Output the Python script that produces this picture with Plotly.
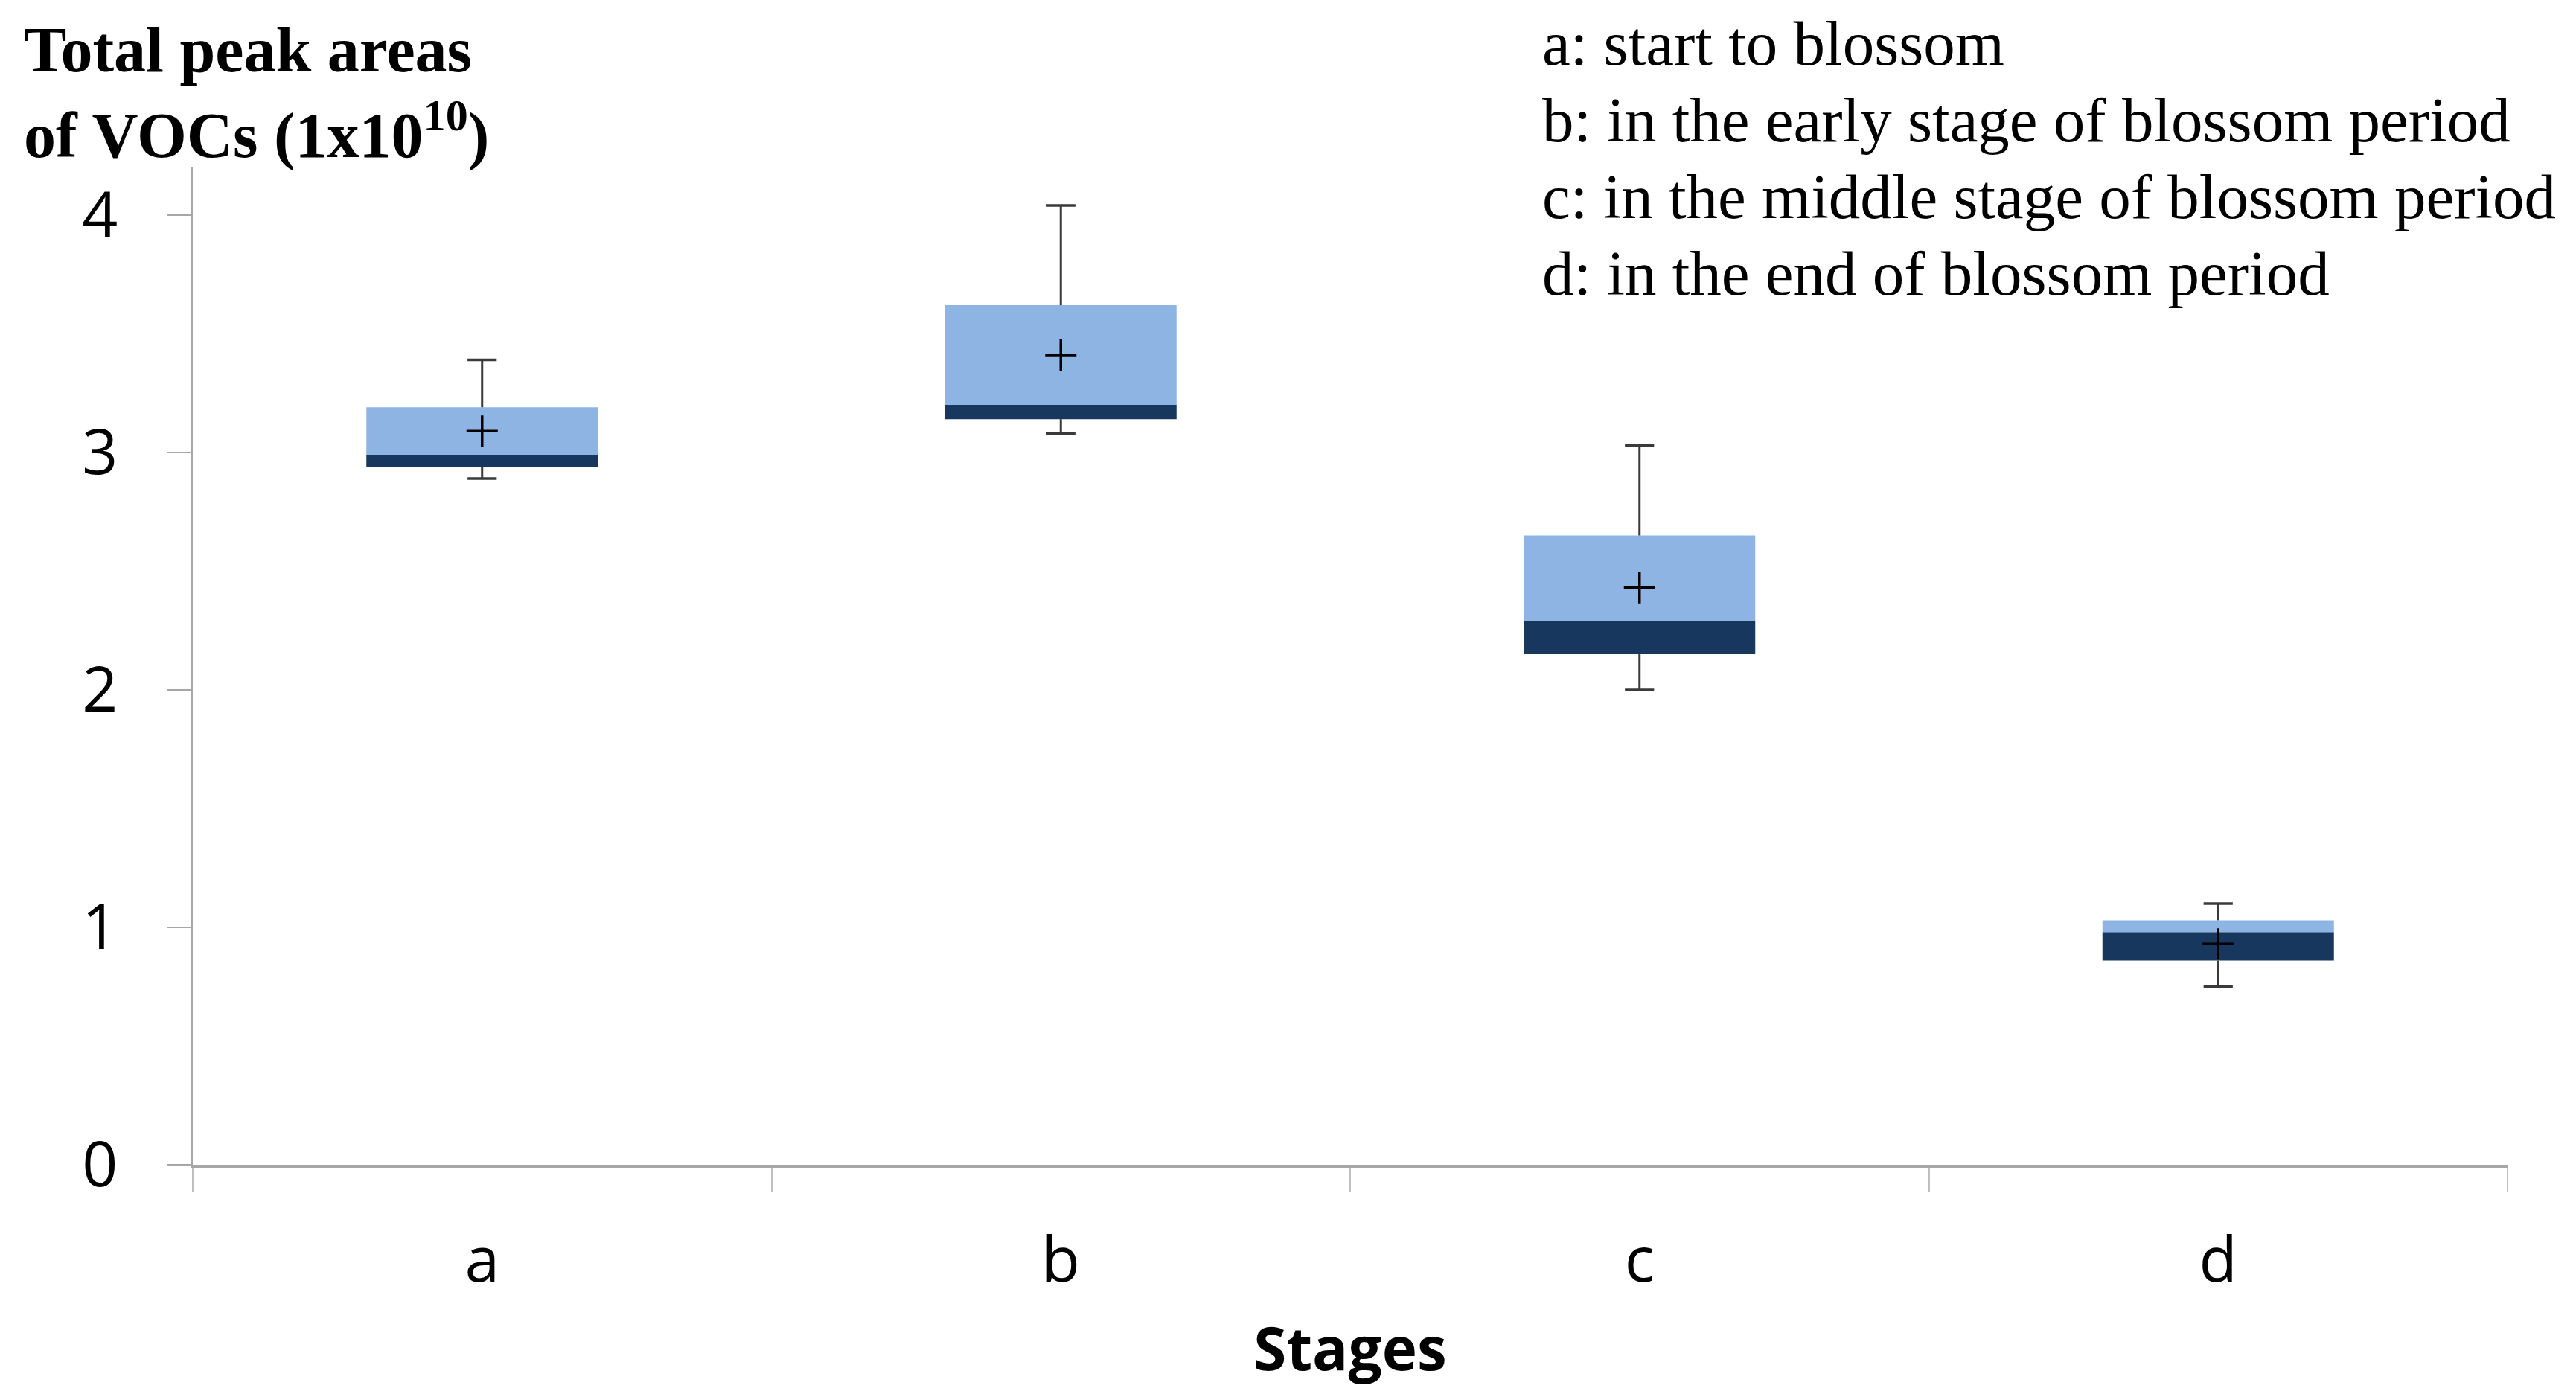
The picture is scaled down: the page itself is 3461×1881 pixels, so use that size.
import plotly.graph_objects as go

# ---- data ----
stages = ["a", "b", "c", "d"]
q1 = [2.94, 3.14, 2.15, 0.86]
median = [2.99, 3.20, 2.29, 0.98]
q3 = [3.19, 3.62, 2.65, 1.03]
minimum = [2.89, 3.08, 2.00, 0.75]
maximum = [3.39, 4.04, 3.03, 1.10]
mean = [3.09, 3.41, 2.43, 0.93]
yticks = [0, 1, 2, 3, 4]
title_lines = ["<b>Total peak areas</b>", "<b>of VOCs (1x10<sup>10</sup>)</b>"]
legend_lines = [
    "a: start to blossom",
    "b: in the early stage of blossom period",
    "c: in the middle stage of blossom period",
    "d: in the end of blossom period",
]

DARK = "#17375E"
LIGHT = "#8EB4E3"
WHISK = "#3A3A3A"
SANS = "Open Sans, sans-serif"
SERIF = "Liberation Serif, serif"

lower_h = [m - a for m, a in zip(median, q1)]
upper_h = [b - m for b, m in zip(q3, median)]

# whisker segments (q3 -> max, q1 -> min), separated by None
wx, wy = [], []
for s, a, b, mn, mx in zip(stages, q1, q3, minimum, maximum):
    wx += [s, s, None, s, s, None]
    wy += [b, mx, None, a, mn, None]

fig = go.Figure()
fig.add_trace(go.Bar(x=stages, y=lower_h, base=q1, width=0.4,
                     marker=dict(color=DARK, line=dict(width=0)), showlegend=False))
fig.add_trace(go.Bar(x=stages, y=upper_h, base=median, width=0.4,
                     marker=dict(color=LIGHT, line=dict(width=0)), showlegend=False))
fig.add_trace(go.Scatter(x=wx, y=wy, mode="lines", line=dict(color=WHISK, width=3),
                         connectgaps=False, showlegend=False))
fig.add_trace(go.Scatter(x=stages + stages, y=maximum + minimum, mode="markers",
                         marker=dict(symbol="line-ew", size=28, line=dict(width=3.5, color=WHISK)),
                         showlegend=False))
# means
fig.add_trace(go.Scatter(x=stages, y=mean, mode="markers",
                         marker=dict(symbol="cross-thin", size=30, line=dict(width=3.5, color="black"), color="black"),
                         showlegend=False))

# page offset of 8 px (default body margin) compensated
OFF = 8
L, R, T, B = 259 - OFF, 92 + OFF, 225 - OFF, 316 + OFF
W, H = 3461, 1881
PW, PH = W - L - R, H - T - B

fig.update_layout(
    width=W, height=H,
    margin=dict(l=L, r=R, t=T, b=B),
    paper_bgcolor="white", plot_bgcolor="white",
    barmode="overlay",
    font=dict(family=SANS, color="black"),
)
fig.update_xaxes(
    showgrid=False, showline=True, linecolor="#A6A6A6", linewidth=4,
    ticks="outside", tickson="boundaries", ticklen=33, tickwidth=2, tickcolor="#BFBFBF",
    tickfont=dict(size=84, family=SANS),
    ticklabelstandoff=52,
    title=dict(text="<b>Stages</b>", font=dict(size=80, family=SANS), standoff=40),
)
fig.update_yaxes(
    range=[0, 4.2], tickvals=yticks, showgrid=False, zeroline=False,
    showline=True, linecolor="#A6A6A6", linewidth=2,
    ticks="outside", ticklen=32, tickwidth=2, tickcolor="#A6A6A6",
    tickfont=dict(size=84, family=SANS),
    ticklabelstandoff=50,
)

def px_to_paper(xp, yp):
    return (xp - L) / PW, (H - B - yp) / PH

# y-axis title (two lines)
for i, line in enumerate(title_lines):
    x, y = px_to_paper(22, 98 + 102 * i - 89)
    fig.add_annotation(xref="paper", yref="paper", x=x, y=y, xanchor="left", yanchor="top",
                       align="left", showarrow=False, text=line,
                       font=dict(family=SERIF, size=86, color="black"))

# stage descriptions
for i, line in enumerate(legend_lines):
    x, y = px_to_paper(2062, 1 + 103 * i)
    fig.add_annotation(xref="paper", yref="paper", x=x, y=y, xanchor="left", yanchor="top",
                       align="left", showarrow=False, text=line,
                       font=dict(family=SERIF, size=85, color="black"))

fig.write_html("out.html")
